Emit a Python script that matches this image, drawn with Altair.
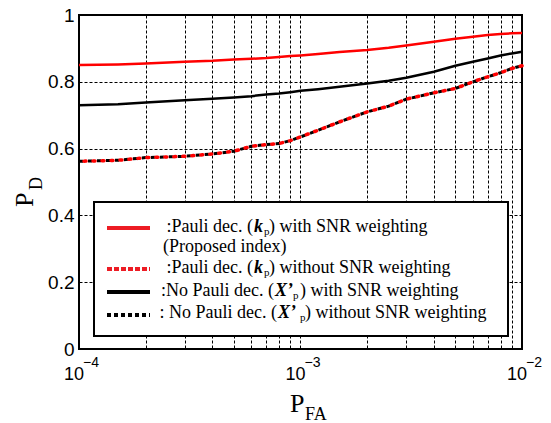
import altair as alt
import pandas as pd

# ---------------- data ----------------
pfa = [1e-4, 1.5e-4, 2e-4, 3e-4, 4e-4, 5e-4, 6e-4, 7e-4, 8e-4, 9e-4,
       1e-3, 1.2e-3, 1.5e-3, 2e-3, 2.5e-3, 3e-3, 4e-3, 5e-3, 6e-3, 7e-3,
       8e-3, 9e-3, 1e-2]
pd_pauli_snr = [0.850, 0.852, 0.855, 0.860, 0.863, 0.867, 0.869, 0.871, 0.874, 0.877,
                0.879, 0.883, 0.889, 0.895, 0.902, 0.909, 0.920, 0.929, 0.935, 0.940,
                0.943, 0.945, 0.946]
pd_pauli_nosnr = [0.562, 0.565, 0.573, 0.577, 0.584, 0.592, 0.607, 0.612, 0.615, 0.624,
                  0.635, 0.655, 0.680, 0.710, 0.727, 0.748, 0.767, 0.780, 0.800, 0.815,
                  0.827, 0.840, 0.848]
pd_nopauli_snr = [0.730, 0.733, 0.738, 0.745, 0.749, 0.753, 0.757, 0.762, 0.765, 0.769,
                  0.773, 0.778, 0.785, 0.795, 0.803, 0.812, 0.830, 0.848, 0.860, 0.870,
                  0.879, 0.885, 0.890]
pd_nopauli_nosnr = [0.562, 0.565, 0.573, 0.577, 0.584, 0.592, 0.607, 0.612, 0.615, 0.624,
                    0.635, 0.655, 0.680, 0.710, 0.727, 0.748, 0.767, 0.780, 0.800, 0.815,
                    0.827, 0.840, 0.848]

x_grid_vals = [2e-4, 3e-4, 4e-4, 5e-4, 6e-4, 7e-4, 8e-4, 9e-4, 1e-3,
               2e-3, 3e-3, 4e-3, 5e-3, 6e-3, 7e-3, 8e-3, 9e-3]
y_tick_vals = [0, 0.2, 0.4, 0.6, 0.8, 1.0]
x_label_vals = [1e-4, 1e-3, 1e-2]
x_label_exps = ["\u22124", "\u22123", "\u22122"]

W, H = 443, 334
SANS = "Liberation Sans"
SERIF = "Liberation Serif"

# ---------------- encodings ----------------
x_enc = alt.X("pfa:Q",
              scale=alt.Scale(type="log", domain=[1e-4, 1e-2]),
              axis=alt.Axis(values=x_grid_vals, labels=False, ticks=False, domain=False,
                            grid=True, gridColor="black", gridDash=[3, 2], gridWidth=1,
                            gridOpacity=1, title=None))
y_enc = alt.Y("pd:Q",
              scale=alt.Scale(domain=[0, 1]),
              axis=alt.Axis(values=y_tick_vals, format="~g", ticks=False, domain=False,
                            grid=True, gridColor="black", gridDash=[3, 2], gridWidth=1,
                            gridOpacity=1, labelFont=SANS, labelFontSize=19,
                            labelColor="black", labelPadding=5, title=None))


def series_df(vals):
    return pd.DataFrame({"pfa": pfa, "pd": vals})


red_solid = alt.Chart(series_df(pd_pauli_snr)).mark_line(
    color="#ff0000", strokeWidth=2.5).encode(x=x_enc, y=y_enc)
black_solid = alt.Chart(series_df(pd_nopauli_snr)).mark_line(
    color="black", strokeWidth=2.5).encode(x=x_enc, y=y_enc)
black_dotted = alt.Chart(series_df(pd_nopauli_nosnr)).mark_line(
    color="black", strokeWidth=3, strokeDash=[4, 5]).encode(x=x_enc, y=y_enc)
red_dotted = alt.Chart(series_df(pd_pauli_nosnr)).mark_line(
    color="#ff0000", strokeWidth=3.5, strokeDash=[2, 7], strokeDashOffset=-5,
    strokeCap="round").encode(x=x_enc, y=y_enc)

# x tick labels 10^-n
lab_df = pd.DataFrame({"pfa": x_label_vals, "exp": x_label_exps})
x_lab_base = alt.Chart(lab_df).mark_text(
    font=SANS, fontSize=18, align="right", baseline="alphabetic", dx=5, color="black"
).encode(x=x_enc, y=alt.value(H + 31), text=alt.value("10"))
x_lab_exp = alt.Chart(lab_df).mark_text(
    font=SANS, fontSize=14, align="left", baseline="alphabetic", dx=4, color="black"
).encode(x=x_enc, y=alt.value(H + 18), text="exp:N")

one = pd.DataFrame({"a": [0]})


def txt(s, x, y, size=18, font=SERIF, weight="normal", style="normal", align="left", angle=0):
    return alt.Chart(one).mark_text(
        font=font, fontSize=size, fontWeight=weight, fontStyle=style, align=align,
        baseline="alphabetic", angle=angle, color="black"
    ).encode(x=alt.value(x), y=alt.value(y), text=alt.value(s))


# axis titles
titles = [
    txt("P", 211, 397, size=26),
    txt("FA", 226, 405, size=18),
    txt("P", -46, 192, size=26, angle=270),
    txt("D", -37, 175, size=18, angle=270),
]

# legend
legend_box = alt.Chart(one).mark_rect(
    fill="white", stroke="black", strokeWidth=2
).encode(x=alt.value(15), x2=alt.value(429), y=alt.value(187), y2=alt.value(321))


def sample(y, color, dash=None):
    kw = dict(color=color, strokeWidth=4)
    if dash:
        kw["strokeDash"] = dash
    return alt.Chart(one).mark_rule(**kw).encode(
        x=alt.value(28), x2=alt.value(71), y=alt.value(y))


samples = [
    sample(213, "#ed1c24"),
    sample(254, "#ed1c24", [5, 2]),
    sample(277, "black"),
    sample(300, "black", [4, 3]),
]

legend_text = [
    # row 1
    txt(":Pauli dec. (", 174, 217, align="right"),
    txt("k", 175, 217, weight="bold", style="italic"),
    txt("p", 185, 220, size=11),
    txt(") with SNR weighting", 190, 217),
    # row 2
    txt("(Proposed index)", 84, 237),
    # row 3
    txt(":Pauli dec. (", 174, 258, align="right"),
    txt("k", 175, 258, weight="bold", style="italic"),
    txt("p", 185, 261, size=11),
    txt(") without SNR weighting", 190, 258),
    # row 4
    txt(":No Pauli dec. (", 195, 281, align="right"),
    txt("X\u2019", 196, 281, weight="bold", style="italic"),
    txt("p", 214, 284, size=11),
    txt(") with SNR weighting", 221, 281),
    # row 5
    txt(": No Pauli dec. (", 198, 303, align="right"),
    txt("X\u2019", 199, 303, weight="bold", style="italic"),
    txt("p", 221, 306, size=11),
    txt(") without SNR weighting", 226, 303),
]

chart = alt.layer(
    black_dotted, red_dotted, black_solid, red_solid,
    x_lab_base, x_lab_exp,
    *titles, legend_box, *samples, *legend_text
).properties(
    width=W, height=H,
    autosize=alt.AutoSizeParams(type="none"),
    padding={"left": 71, "top": 7, "right": 20, "bottom": 74},
    background="white",
).configure_view(stroke="black", strokeWidth=2)

chart.save("out.html", embed_options={"renderer": "svg", "actions": False})
